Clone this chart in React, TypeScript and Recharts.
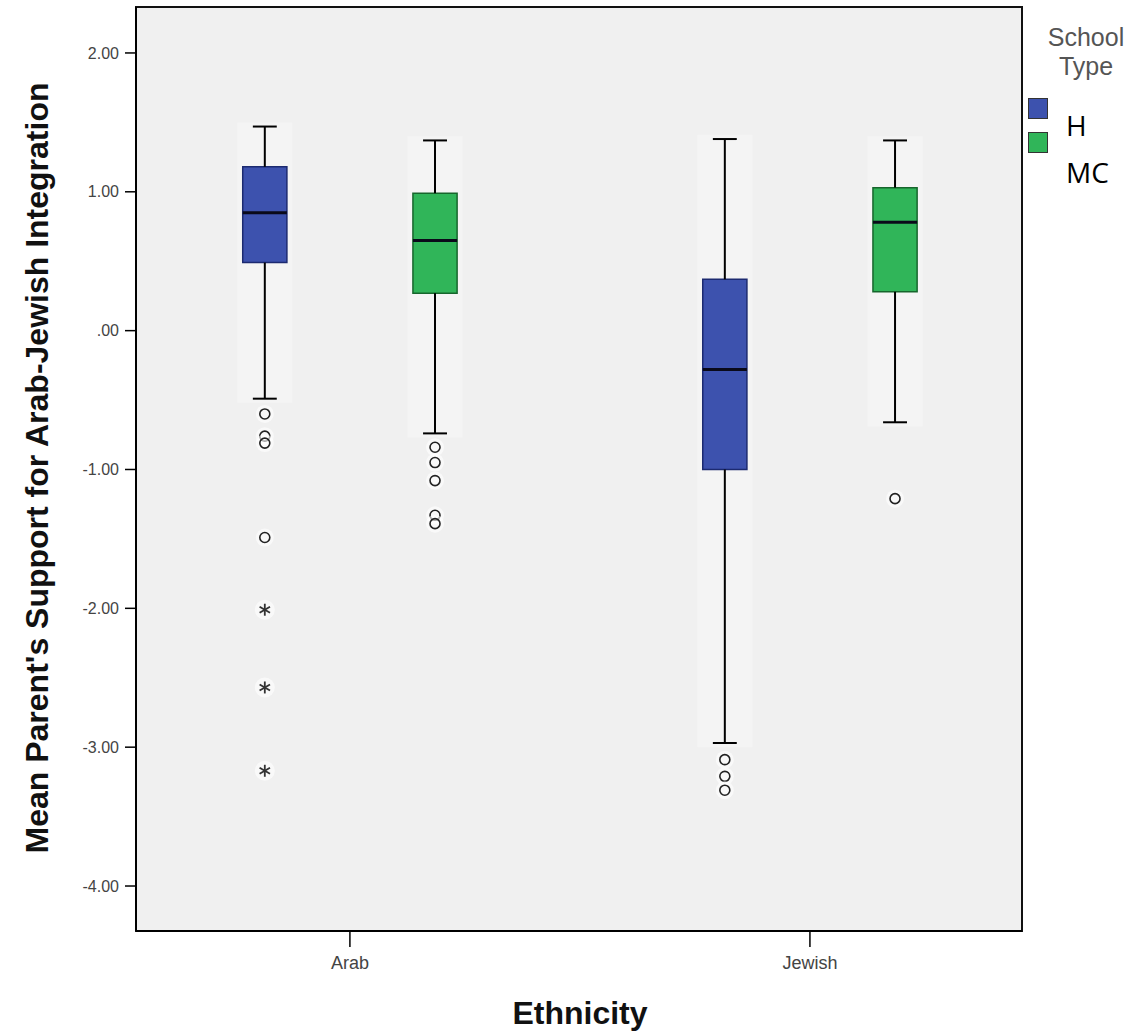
import React from 'react';
import { ScatterChart, Scatter, XAxis, YAxis, ReferenceArea, ReferenceLine } from 'recharts';

const ethnicities = ['Arab', 'Jewish'];
const schoolTypes = ['H', 'MC'];
const yTicks = [-4, -3, -2, -1, 0, 1, 2];

// H (Hebrew) school boxes, one entry per ethnicity
const hWhiskerTop = [1.47, 1.38];
const hQ3 = [1.18, 0.37];
const hMedian = [0.85, -0.28];
const hQ1 = [0.49, -1.0];
const hWhiskerBottom = [-0.49, -2.97];
const hOutliers = [[-0.6, -0.76, -0.81, -1.49], [-3.09, -3.21, -3.31]];
const hExtremes = [[-2.01, -2.57, -3.17], []];

// MC (mixed) school boxes
const mcWhiskerTop = [1.37, 1.37];
const mcQ3 = [0.99, 1.03];
const mcMedian = [0.65, 0.78];
const mcQ1 = [0.27, 0.28];
const mcWhiskerBottom = [-0.74, -0.66];
const mcOutliers = [[-0.84, -0.95, -1.08, -1.33, -1.39], [-1.21]];
const mcExtremes = [[], []];

const COLORS = { H: '#3d52ae', MC: '#30b559' };
const STROKES = { H: '#1c2a70', MC: '#16662c' };

const X_DOMAIN: [number, number] = [-0.465, 1.461];
const Y_DOMAIN: [number, number] = [-4.324, 2.331];
const OFFSET = 0.185;
const BOX_HALF = 0.048;
const CAP_HALF = 0.026;

const groups = schoolTypes.map((s, si) => ({
  school: s,
  dx: si === 0 ? -OFFSET : OFFSET,
  top: si === 0 ? hWhiskerTop : mcWhiskerTop,
  q3: si === 0 ? hQ3 : mcQ3,
  med: si === 0 ? hMedian : mcMedian,
  q1: si === 0 ? hQ1 : mcQ1,
  bottom: si === 0 ? hWhiskerBottom : mcWhiskerBottom,
  out: si === 0 ? hOutliers : mcOutliers,
  ext: si === 0 ? hExtremes : mcExtremes,
}));

const circlePts: { x: number; y: number }[] = [];
const starPts: { x: number; y: number }[] = [];
groups.forEach((g) => {
  ethnicities.forEach((_, ei) => {
    g.out[ei].forEach((v) => circlePts.push({ x: ei + g.dx, y: v }));
    g.ext[ei].forEach((v) => starPts.push({ x: ei + g.dx, y: v }));
  });
});

const fmt = (v: number) => (v === 0 ? '.00' : v.toFixed(2));

const Circle = (p: any) => (
  <g>
    <circle cx={p.cx} cy={p.cy} r={9} fill="#ffffff" opacity={0.6} />
    <circle cx={p.cx} cy={p.cy} r={5} fill="none" stroke="#222" strokeWidth={1.6} />
  </g>
);

const Star = (p: any) => {
  const r = 6;
  const lines = [0, 60, 120].map((a) => {
    const rad = (a * Math.PI) / 180;
    return (
      <line
        key={a}
        x1={p.cx - r * Math.sin(rad)}
        y1={p.cy - r * Math.cos(rad)}
        x2={p.cx + r * Math.sin(rad)}
        y2={p.cy + r * Math.cos(rad)}
        stroke="#333"
        strokeWidth={1.8}
      />
    );
  });
  return (
    <g>
      <circle cx={p.cx} cy={p.cy} r={10} fill="#ffffff" opacity={0.6} />
      {lines}
    </g>
  );
};

const tickStyle = { fill: '#444', fontSize: 16, fontFamily: 'Liberation Sans, Arial, sans-serif' };

export default function App() {
  return (
    <div style={{ position: 'absolute', left: 0, top: 0, width: 1132, height: 1035, background: '#fff' }}>
      <ScatterChart width={1132} height={1035} margin={{ top: 7, right: 110, bottom: 0, left: 0 }}>
        <XAxis
          type="number"
          dataKey="x"
          domain={X_DOMAIN}
          allowDataOverflow
          ticks={[0, 1]}
          tickFormatter={(i: number) => ethnicities[i]}
          height={104}
          tickSize={16}
          tickMargin={9}
          tick={{ ...tickStyle, fontSize: 18 }}
          axisLine={{ stroke: '#000', strokeWidth: 2 }}
          tickLine={{ stroke: '#000', strokeWidth: 1.5 }}
        />
        <YAxis
          type="number"
          dataKey="y"
          domain={Y_DOMAIN}
          allowDataOverflow
          ticks={yTicks}
          tickFormatter={fmt}
          width={136}
          tickSize={11}
          tickMargin={6}
          tick={tickStyle}
          axisLine={{ stroke: '#000', strokeWidth: 2 }}
          tickLine={{ stroke: '#000', strokeWidth: 1.5 }}
        />
        <ReferenceArea
          x1={X_DOMAIN[0]}
          x2={X_DOMAIN[1]}
          y1={Y_DOMAIN[0]}
          y2={Y_DOMAIN[1]}
          fill="#f0f0f0"
          fillOpacity={1}
          stroke="#111"
          strokeWidth={2}
          ifOverflow="visible"
        />
        {groups.map((g) =>
          ethnicities.map((_, ei) => {
            const cx = ei + g.dx;
            return (
              <React.Fragment key={g.school + ei}>
                <ReferenceArea
                  x1={cx - BOX_HALF - 0.012}
                  x2={cx + BOX_HALF + 0.012}
                  y1={g.bottom[ei] - 0.03}
                  y2={g.top[ei] + 0.03}
                  fill="#ffffff"
                  fillOpacity={0.3}
                  stroke="none"
                />
                <ReferenceLine segment={[{ x: cx, y: g.q3[ei] }, { x: cx, y: g.top[ei] }]} stroke="#000" strokeWidth={2} />
                <ReferenceLine segment={[{ x: cx, y: g.q1[ei] }, { x: cx, y: g.bottom[ei] }]} stroke="#000" strokeWidth={2} />
                <ReferenceLine segment={[{ x: cx - CAP_HALF, y: g.top[ei] }, { x: cx + CAP_HALF, y: g.top[ei] }]} stroke="#000" strokeWidth={2} />
                <ReferenceLine segment={[{ x: cx - CAP_HALF, y: g.bottom[ei] }, { x: cx + CAP_HALF, y: g.bottom[ei] }]} stroke="#000" strokeWidth={2} />
                <ReferenceArea
                  x1={cx - BOX_HALF}
                  x2={cx + BOX_HALF}
                  y1={g.q1[ei]}
                  y2={g.q3[ei]}
                  fill={COLORS[g.school as 'H' | 'MC']}
                  fillOpacity={1}
                  stroke={STROKES[g.school as 'H' | 'MC']}
                  strokeWidth={1.5}
                />
                <ReferenceLine segment={[{ x: cx - BOX_HALF, y: g.med[ei] }, { x: cx + BOX_HALF, y: g.med[ei] }]} stroke="#0a0a1a" strokeWidth={3} />
              </React.Fragment>
            );
          })
        )}
        <Scatter data={circlePts} shape={Circle} isAnimationActive={false} />
        <Scatter data={starPts} shape={Star} isAnimationActive={false} />
      </ScatterChart>

      <div
        style={{
          position: 'absolute',
          left: 37,
          top: 468,
          transform: 'translate(-50%, -50%) rotate(-90deg)',
          whiteSpace: 'nowrap',
          fontFamily: 'Liberation Sans, Arial, sans-serif',
          fontWeight: 'bold',
          fontSize: 32,
          color: '#111',
        }}
      >
        Mean Parent's Support for Arab-Jewish Integration
      </div>
      <div
        style={{
          position: 'absolute',
          left: 580,
          top: 1013,
          transform: 'translate(-50%, -50%)',
          fontFamily: 'Liberation Sans, Arial, sans-serif',
          fontWeight: 'bold',
          fontSize: 32,
          color: '#111',
        }}
      >
        Ethnicity
      </div>

      <div
        style={{
          position: 'absolute',
          left: 1036,
          top: 23,
          width: 100,
          textAlign: 'center',
          fontFamily: 'Liberation Sans, Arial, sans-serif',
          fontSize: 25,
          lineHeight: '29px',
          color: '#555',
        }}
      >
        School
        <br />
        Type
      </div>
      {schoolTypes.map((s, i) => (
        <div
          key={s}
          style={{
            position: 'absolute',
            left: 1028,
            top: 98 + i * 34,
            width: 20,
            height: 21,
            background: COLORS[s as 'H' | 'MC'],
            border: '1px solid #333',
            boxSizing: 'border-box',
          }}
        />
      ))}
      <div
        style={{
          position: 'absolute',
          left: 1048,
          top: 97,
          width: 84,
          height: 112,
          background: '#fff',
          fontFamily: 'Open Sans, sans-serif',
          fontSize: 28,
          lineHeight: '47px',
          color: '#000',
          paddingLeft: 18,
          paddingTop: 5,
          boxSizing: 'border-box',
        }}
      >
        {schoolTypes.map((s) => (
          <div key={s}>{s}</div>
        ))}
      </div>
    </div>
  );
}
